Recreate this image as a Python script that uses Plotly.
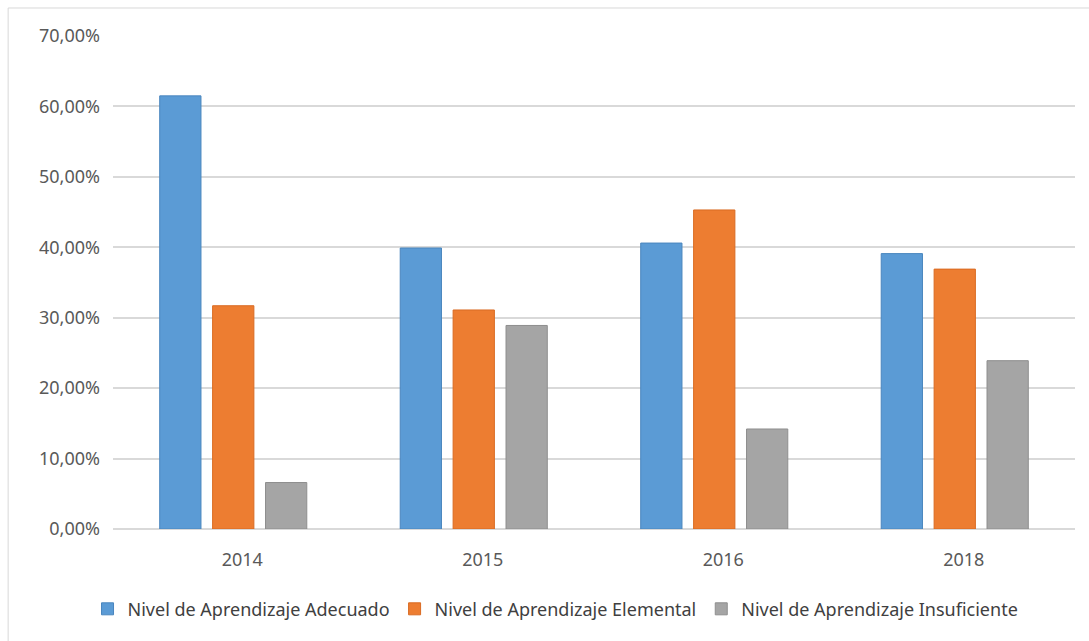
import plotly.graph_objects as go

# Survey years and share of students at each learning level
years = ["2014", "2015", "2016", "2018"]
adecuado = [0.615, 0.399, 0.406, 0.391]
elemental = [0.317, 0.311, 0.453, 0.369]
insuficiente = [0.066, 0.289, 0.142, 0.239]

series = [
    ("Nivel de Aprendizaje Adecuado", adecuado, "#5B9BD5", "#4A86BE"),
    ("Nivel de Aprendizaje Elemental", elemental, "#ED7D31", "#D96B22"),
    ("Nivel de Aprendizaje Insuficiente", insuficiente, "#A5A5A5", "#8E8E8E"),
]

fig = go.Figure()
for name, vals, fill, edge in series:
    fig.add_trace(go.Bar(
        x=years, y=vals, name=name,
        marker=dict(color=fill, line=dict(color=edge, width=1)),
    ))

FONT = "Noto Sans"
fig.update_layout(
    width=1089, height=641,
    margin=dict(l=113, r=14, t=36, b=112, autoexpand=False),
    paper_bgcolor="white", plot_bgcolor="white",
    barmode="group", bargap=0.34, bargroupgap=0.22,
    separators=",.",
    font=dict(family=FONT, size=18, color="#404040"),
    showlegend=True,
    legend=dict(
        orientation="h", x=0.46, xanchor="center", y=-0.125, yanchor="top",
        font=dict(family=FONT, size=18, color="#404040"),
        itemwidth=30, traceorder="normal",
    ),
    xaxis=dict(
        showgrid=False, showline=False, ticks="", automargin=False,
        tickfont=dict(family=FONT, size=18, color="#595959"),
        ticklabelshift=9, ticklabelstandoff=18,
    ),
    yaxis=dict(
        range=[0, 0.70], dtick=0.10, tickformat=".2%", automargin=False,
        showgrid=True, gridcolor="#D9D9D9", gridwidth=1.5,
        zeroline=True, zerolinecolor="#D9D9D9", zerolinewidth=1.5,
        showline=False, ticks="",
        tickfont=dict(family=FONT, size=18, color="#595959"),
        ticklabelstandoff=12,
    ),
    shapes=[
        # chart frame (left and top edges)
        dict(type="line", xref="paper", yref="paper",
             x0=-0.109, x1=-0.109, y0=1.0568, y1=-0.24,
             line=dict(color="#D9D9D9", width=1)),
        dict(type="line", xref="paper", yref="paper",
             x0=-0.109, x1=1.03, y0=1.0568, y1=1.0568,
             line=dict(color="#D9D9D9", width=1)),
    ],
)

fig.write_html("out.html")
